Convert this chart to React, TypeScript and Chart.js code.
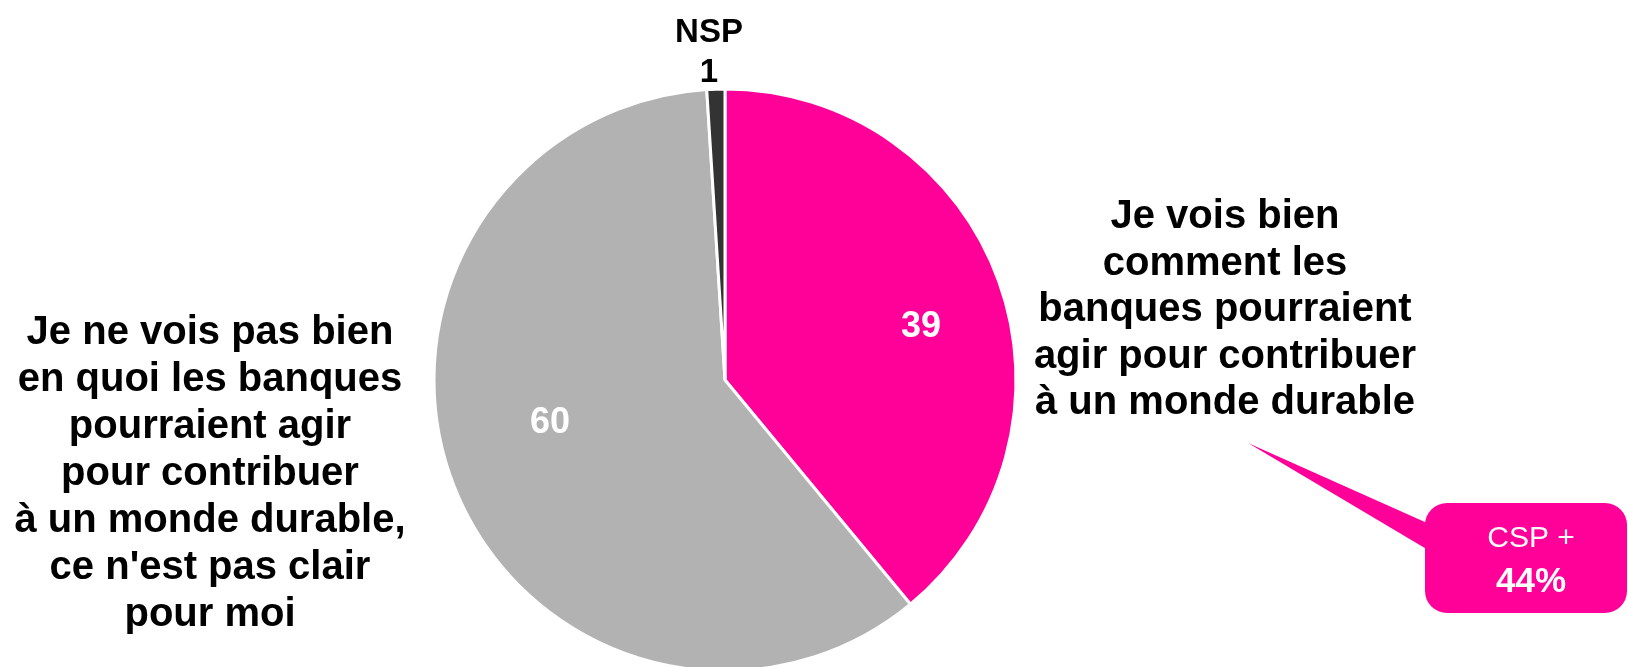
import React, { useEffect, useRef } from "react";
import { Chart, registerables } from "chart.js";

Chart.register(...registerables);

const categories = [
  "Je vois bien comment les banques pourraient agir pour contribuer à un monde durable",
  "Je ne vois pas bien en quoi les banques pourraient agir pour contribuer à un monde durable, ce n'est pas clair pour moi",
  "NSP",
];
const values = [39, 60, 1];
const colors = ["#FF0099", "#B2B2B2", "#333333"];

const rightLabelLines = [
  "Je vois bien",
  "comment les",
  "banques pourraient",
  "agir pour contribuer",
  "à un monde durable",
];
const leftLabelLines = [
  "Je ne vois pas bien",
  "en quoi les banques",
  "pourraient agir",
  "pour contribuer",
  "à un monde durable,",
  "ce n'est pas clair",
  "pour moi",
];
const nspLabel = "NSP";
const calloutTitle = "CSP +";
const calloutValue = "44%";

const FONT = "'Liberation Sans', Arial, Helvetica, sans-serif";

// label anchors (pixels on the canvas)
const valueAnchors = [
  { x: 921, y: 337, color: "#FFFFFF" },
  { x: 550, y: 433, color: "#FFFFFF" },
  { x: 709, y: 82, color: "#000000" },
];

const overlayPlugin = {
  id: "overlay",
  afterDraw(chart: any) {
    const ctx: CanvasRenderingContext2D = chart.ctx;
    ctx.save();
    ctx.textAlign = "center";
    ctx.textBaseline = "alphabetic";

    // value labels
    values.forEach((v, i) => {
      const a = valueAnchors[i];
      ctx.fillStyle = a.color;
      ctx.font = `bold ${i === 2 ? 33 : 36}px ${FONT}`;
      ctx.fillText(String(v), a.x, a.y);
    });

    // NSP label
    ctx.fillStyle = "#000000";
    ctx.font = `bold 33px ${FONT}`;
    ctx.fillText(nspLabel, 709, 42);

    // category labels
    ctx.font = `bold 40px ${FONT}`;
    rightLabelLines.forEach((l, i) => ctx.fillText(l, 1225, 228 + i * 46.5));
    leftLabelLines.forEach((l, i) => ctx.fillText(l, 210, 344 + i * 47));

    // callout
    ctx.fillStyle = "#FF0099";
    ctx.beginPath();
    ctx.moveTo(1248, 443);
    ctx.lineTo(1445, 531);
    ctx.lineTo(1445, 560);
    ctx.closePath();
    ctx.fill();
    const bx = 1425, by = 503, bw = 202, bh = 110, r = 22;
    ctx.beginPath();
    ctx.moveTo(bx + r, by);
    ctx.arcTo(bx + bw, by, bx + bw, by + bh, r);
    ctx.arcTo(bx + bw, by + bh, bx, by + bh, r);
    ctx.arcTo(bx, by + bh, bx, by, r);
    ctx.arcTo(bx, by, bx + bw, by, r);
    ctx.closePath();
    ctx.fill();

    ctx.fillStyle = "#FFFFFF";
    ctx.font = `30px ${FONT}`;
    ctx.fillText(calloutTitle, 1531, 547);
    ctx.font = `bold 35px ${FONT}`;
    ctx.fillText(calloutValue, 1531, 592);

    ctx.restore();
  },
};

export default function App() {
  const ref = useRef<HTMLCanvasElement>(null);

  useEffect(() => {
    if (!ref.current) return;
    const chart = new Chart(ref.current, {
      type: "pie",
      data: {
        labels: categories,
        datasets: [
          {
            data: values,
            backgroundColor: colors,
            borderColor: "#FFFFFF",
            borderWidth: 3,
            hoverOffset: 0,
          },
        ],
      },
      options: {
        responsive: false,
        animation: false,
        radius: 291,
        layout: { padding: { left: 434, right: 612, top: 89, bottom: 29 } },
        plugins: {
          legend: { display: false },
          tooltip: { enabled: false },
        },
      },
      plugins: [overlayPlugin],
    } as any);
    return () => chart.destroy();
  }, []);

  return (
    <div
      style={{
        position: "fixed",
        left: 0,
        top: 0,
        width: 1628,
        height: 667,
        overflow: "hidden",
        background: "#FFFFFF",
      }}
    >
      <canvas ref={ref} width={1628} height={700} style={{ width: 1628, height: 700, display: "block" }} />
    </div>
  );
}
